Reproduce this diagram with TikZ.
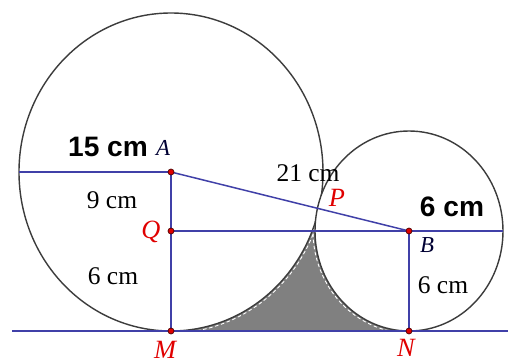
\documentclass[tikz,border=0pt]{standalone}
\usepackage{fontspec}
\setmainfont{Liberation Serif}
\setsansfont{Liberation Sans}
\definecolor{segblue}{HTML}{4040A8}
\definecolor{ptred}{HTML}{E00000}
\definecolor{rimgray}{HTML}{3C3C3C}
\definecolor{gapgray}{HTML}{808080}
\tikzset{
  circ/.style={draw=rimgray,line width=0.8pt,fill=white},
  seg/.style={draw=segblue,line width=0.85pt},
  dot/.style={circle,fill=ptred,draw=black!70!red,line width=0.4pt,inner sep=0pt,minimum size=3.4pt},
  ptlabel/.style={font=\fontsize{15}{17}\selectfont\itshape,text=ptred},
  cntlabel/.style={font=\fontsize{13}{15}\selectfont\itshape,text=black!80!blue},
  radlabel/.style={font=\sffamily\bfseries\fontsize{16}{18}\selectfont},
  lenlabel/.style={font=\fontsize{14.5}{16}\selectfont}
}
\begin{document}
\begin{tikzpicture}[x=0.02cm,y=0.02cm]
\useasboundingbox (0,0) rectangle (508,363);
\coordinate (A) at (171,191); \coordinate (Q) at (171,132); \coordinate (M) at (171,32);
\coordinate (B) at (409,132); \coordinate (N) at (409,32);
\coordinate (L) at (19,191); \coordinate (R) at (503,132);
\coordinate (g1) at (12,32); \coordinate (g2) at (508,32);
\fill[gapgray] (M) rectangle (B);
\begin{scope}
\clip (M) rectangle (B);
\draw[white,line width=0.5pt,dash pattern=on 2pt off 1.5pt] (A) ellipse [x radius=154, y radius=161];
\draw[white,line width=0.5pt,dash pattern=on 2pt off 1.5pt] (B) ellipse [x radius=96, y radius=102];
\end{scope}
\path[circ] (A) ellipse [x radius=152, y radius=159];
\path[circ] (B) ellipse [x radius=94, y radius=100];
\draw[seg] (g1) -- (g2);
\draw[seg] (L) -- (A); \draw[seg] (A) -- (M); \draw[seg] (A) -- (B);
\draw[seg] (Q) -- (R); \draw[seg] (B) -- (N);
\node[dot] (dA) at (A) {}; \node[dot] (dQ) at (Q) {}; \node[dot] (dM) at (M) {};
\node[dot] (dB) at (B) {}; \node[dot] (dN) at (N) {};
\node[cntlabel] (lA) at (163,215) {A};
\node[cntlabel] (lB) at (427,118) {B};
\node[ptlabel] (lP) at (337,165) {P};
\node[ptlabel] (lQ) at (151,131) {Q};
\node[ptlabel] (lM) at (165,13) {M};
\node[ptlabel] (lN) at (406,15) {N};
\node[radlabel] (r1) at (108,216) {15 cm};
\node[radlabel] (r2) at (452,156) {6 cm};
\node[lenlabel] (d1) at (112,163) {9 cm};
\node[lenlabel] (d2) at (113,87) {6 cm};
\node[lenlabel] (d3) at (443,78) {6 cm};
\node[lenlabel] (d4) at (308,190) {21 cm};
\end{tikzpicture}
\end{document}
